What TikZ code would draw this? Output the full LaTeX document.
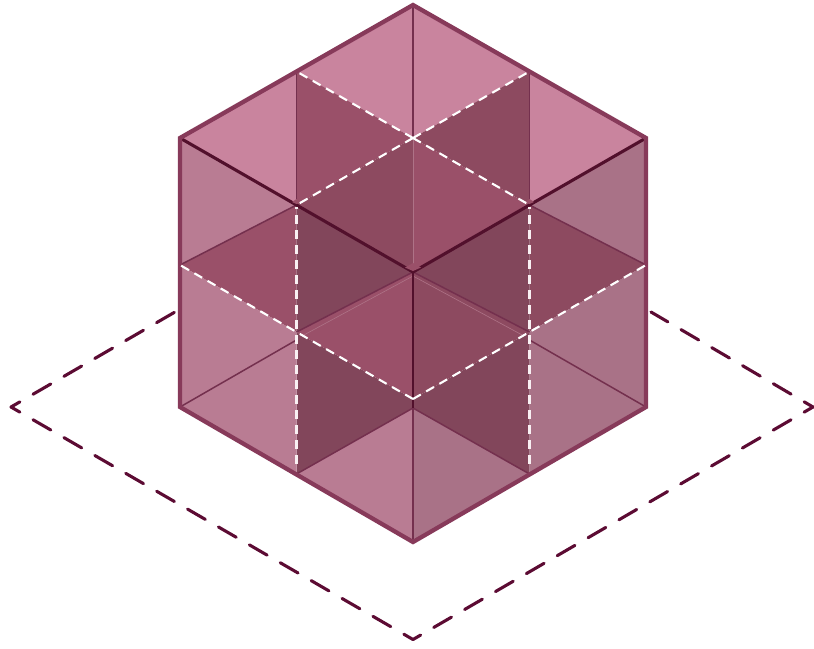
\documentclass[tikz,border=0pt]{standalone}
\definecolor{lightpink}{HTML}{C9849E}
\definecolor{lfacepink}{HTML}{B97C93}
\definecolor{rfacepink}{HTML}{A97287}
\definecolor{midA}{HTML}{9A5069}
\definecolor{midB}{HTML}{8D4A60}
\definecolor{midC}{HTML}{82465B}
\definecolor{edgecol}{HTML}{873A5A}
\definecolor{thincol}{HTML}{74304E}
\definecolor{darkcol}{HTML}{52102C}
\definecolor{groundcol}{HTML}{5C0B33}
\tikzset{
  groundline/.style={draw=groundcol,line width=3.1pt,line cap=round,dash pattern=on 20.5pt off 15.2pt,dash phase=10.25pt},
  outeredge/.style={draw=edgecol,line width=4.3pt,line join=miter},
  thinedge/.style={draw=thincol,line width=1.5pt},
  darkedge/.style={draw=darkcol,line width=3.1pt},
  darkvert/.style={draw=darkcol,line width=2.5pt},
  whitedash/.style={draw=white,line width=2.1pt,dash pattern=on 9pt off 6.2pt},
  whitevert/.style={draw=white!88!lightpink,line width=2.1pt,dash pattern=on 9pt off 6pt,dash phase=7pt},
  faintline/.style={draw=midA!80!white,line width=.6pt},
}
\begin{document}
\begin{tikzpicture}[x=1pt,y=-1pt]
\useasboundingbox (0,0) rectangle (814,648);
% key points of the solid
\coordinate (T) at (413,5);
\coordinate (UL) at (180,138);
\coordinate (UR) at (646,138);
\coordinate (LL) at (180,407);
\coordinate (LR) at (646,407);
\coordinate (B) at (413,542);
\coordinate (C) at (413,272);
\coordinate (TC) at (413,138);
\coordinate (A1) at (296.5,71.5);
\coordinate (A2) at (529.5,71.5);
\coordinate (D1) at (296.5,205);
\coordinate (D2) at (529.5,205);
\coordinate (ML) at (180,265);
\coordinate (MR) at (646,265);
\coordinate (E1) at (296.5,332);
\coordinate (E2) at (529.5,332);
\coordinate (F1) at (296.5,340);
\coordinate (F2) at (529.5,340);
\coordinate (G) at (413,399);
\coordinate (H) at (413,408);
\coordinate (J1) at (296.5,474);
\coordinate (J2) at (529.5,474);
\coordinate (V1s) at (296.5,207);
\coordinate (V2s) at (529.5,207);
\coordinate (V1e) at (296.5,465);
\coordinate (V2e) at (529.5,465);
\coordinate (K1) at (302,336);
\coordinate (K2) at (524,336);
\coordinate (Cf) at (413,276);
% ground outline, visible outside the solid
\coordinate (P1) at (175,312);
\coordinate (P2) at (651,312);
\coordinate (GL) at (11,407);
\coordinate (GR) at (813,407);
\coordinate (GB) at (413,639.5);
\draw[groundline] (GL) -- (P1);
\draw[groundline] (GL) -- (GB);
\draw[groundline] (GR) -- (GB);
\draw[groundline] (GR) -- (P2);
% top face
\fill[lightpink] (T) -- (A1) -- (TC) -- (A2) -- cycle;
\fill[lightpink] (A1) -- (UL) -- (D1) -- cycle;
\fill[lightpink] (A2) -- (UR) -- (D2) -- cycle;
\fill[midA] (A1) -- (TC) -- (D1) -- cycle;
\fill[midB] (A2) -- (TC) -- (D2) -- cycle;
\fill[midB] (D1) -- (TC) -- (C) -- cycle;
\fill[midA] (D2) -- (TC) -- (C) -- cycle;
% left face
\fill[lfacepink] (UL) -- (D1) -- (ML) -- cycle;
\fill[midA] (ML) -- (D1) -- (E1) -- cycle;
\fill[midC] (D1) -- (C) -- (E1) -- cycle;
\fill[lfacepink] (ML) -- (E1) -- (F1) -- (LL) -- cycle;
\fill[midC] (E1) -- (G) -- (H) -- (J1) -- cycle;
\fill[lfacepink] (F1) -- (J1) -- (LL) -- cycle;
\fill[lfacepink] (J1) -- (H) -- (B) -- cycle;
% right face
\fill[rfacepink] (UR) -- (D2) -- (MR) -- cycle;
\fill[midB] (MR) -- (D2) -- (E2) -- cycle;
\fill[midC] (D2) -- (C) -- (E2) -- cycle;
\fill[rfacepink] (MR) -- (E2) -- (F2) -- (LR) -- cycle;
\fill[midC] (E2) -- (G) -- (H) -- (J2) -- cycle;
\fill[rfacepink] (F2) -- (J2) -- (LR) -- cycle;
\fill[rfacepink] (J2) -- (H) -- (B) -- cycle;
% centre
\fill[midA] (C) -- (E1) -- (G) -- cycle;
\fill[midB] (C) -- (E2) -- (G) -- cycle;
% thin edges
\draw[thinedge] (T) -- (TC);
\draw[thinedge] (A1) -- (D1);
\draw[thinedge] (A2) -- (D2);
\draw[thinedge] (ML) -- (D1);
\draw[thinedge] (MR) -- (D2);
\draw[thinedge] (LL) -- (F1);
\draw[thinedge] (LR) -- (F2);
\draw[thinedge] (J1) -- (H);
\draw[thinedge] (J2) -- (H);
\draw[thinedge] (E1) -- (C);
\draw[thinedge] (E2) -- (C);
\draw[thinedge] (H) -- (B);
\draw[faintline] (TC) -- (C);
\draw[faintline] (K1) -- (Cf);
\draw[faintline] (K2) -- (Cf);
% dark edges
\draw[darkedge] (UL) -- (C) -- (UR);
\draw[darkvert] (C) -- (H);
% small lit tips
\fill[midA] (413,263) -- (421,267.5) -- (413,271) -- (405,267.5) -- cycle;
\fill[midA] (296.5,199) -- (301,202) -- (296.5,204) -- (292,202) -- cycle;
\fill[midA] (529.5,199) -- (534,202) -- (529.5,204) -- (525,202) -- cycle;
% outline
\draw[outeredge] (T) -- (UR) -- (LR) -- (B) -- (LL) -- (UL) -- cycle;
% white dashed lines
\draw[whitedash] (TC) -- (A1);
\draw[whitedash] (TC) -- (A2);
\draw[whitedash] (TC) -- (D1);
\draw[whitedash] (TC) -- (D2);
\draw[whitevert] (V1s) -- (V1e);
\draw[whitevert] (V2s) -- (V2e);
\draw[whitedash] (G) -- (ML);
\draw[whitedash] (G) -- (MR);
\end{tikzpicture}
\end{document}
